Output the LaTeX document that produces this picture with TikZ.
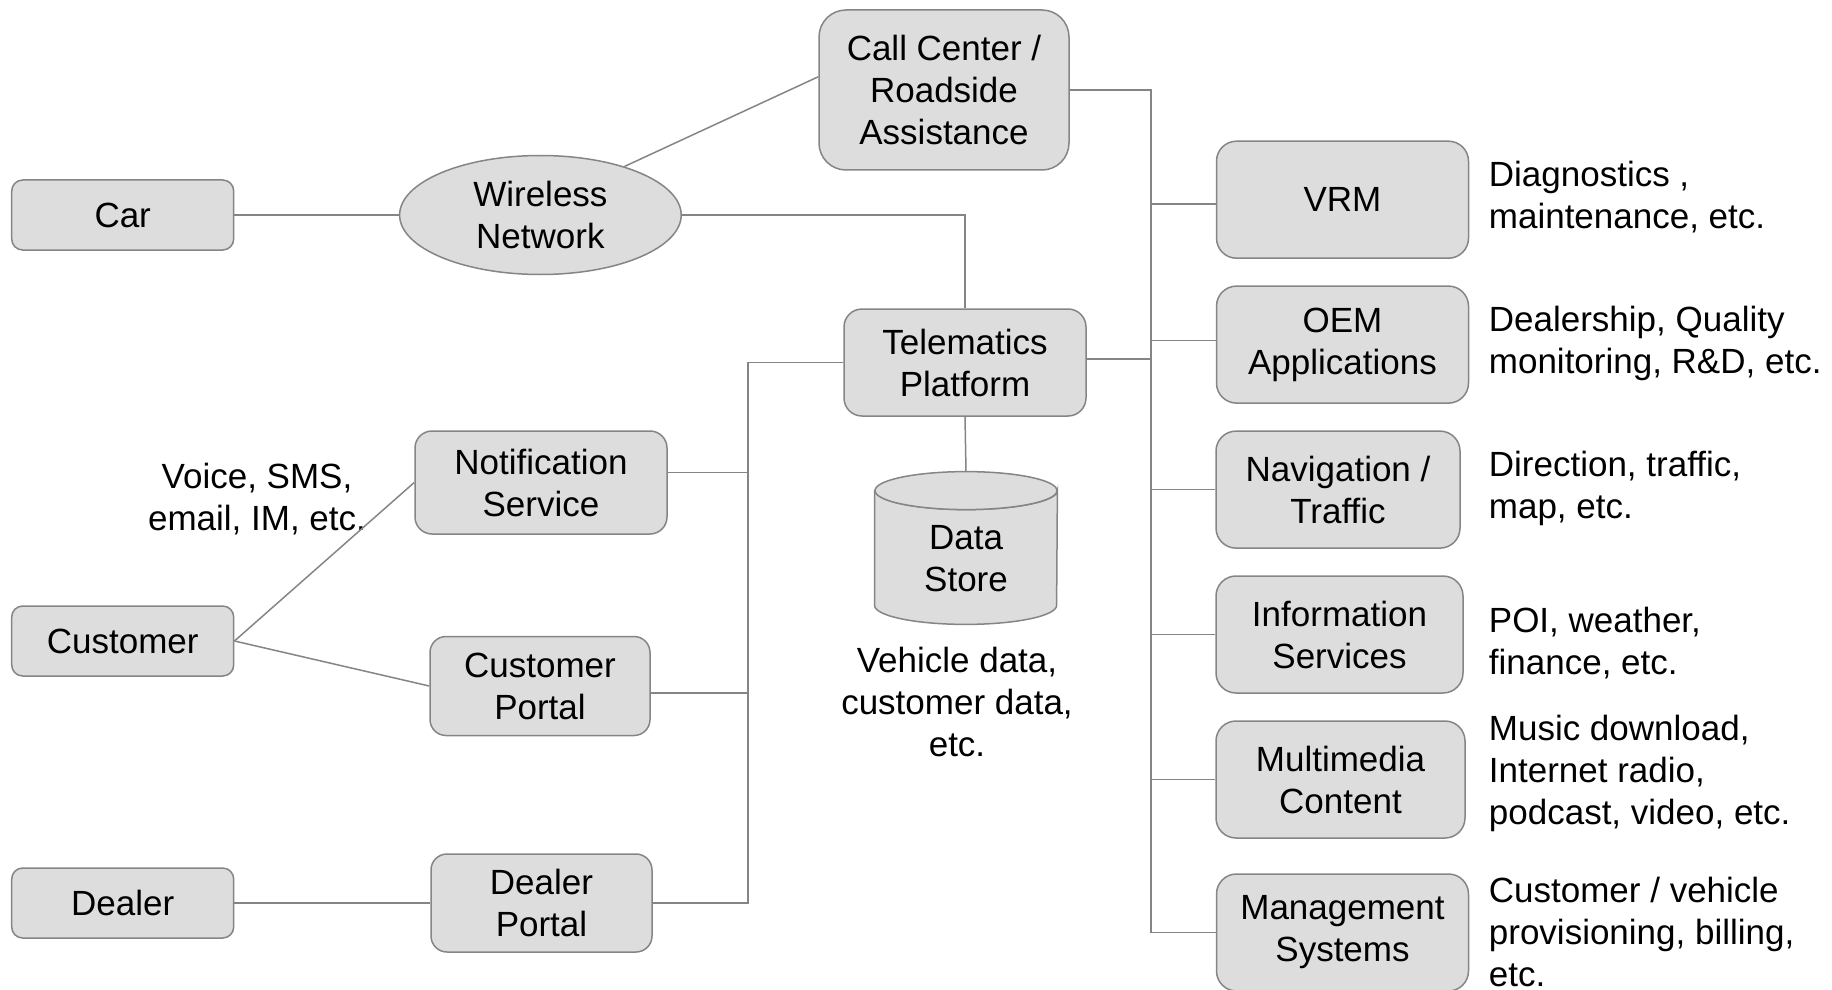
\documentclass[tikz,border=0pt]{standalone}
\usepackage{fontspec}
\setmainfont{Liberation Sans}
\usetikzlibrary{shapes.geometric}
\definecolor{boxfill}{HTML}{DDDDDD}
\definecolor{edge}{HTML}{858585}
\begin{document}
\begin{tikzpicture}[x=0.5pt,y=-0.5pt,
  every node/.style={font=\fontsize{17.5}{21}\selectfont},
  box/.style={draw=edge, fill=boxfill, line width=0.75pt, align=center, inner sep=0pt},
  smallbox/.style={box, rounded corners=5.5pt, minimum width=111pt, minimum height=35pt},
  rightbox/.style={box, rounded corners=10pt, minimum height=58.5pt},
  conn/.style={draw=edge, line width=0.75pt},
  desc/.style={inner sep=0pt, align=left, anchor=west},
  note/.style={inner sep=0pt, align=center}]
\useasboundingbox (0,0) rectangle (1832,990);

% left actors
\node[smallbox] (car) at (122.7,215) {Car};
\node[smallbox] (cust) at (122.7,641) {Customer};
\node[smallbox] (dealer) at (122.7,903) {Dealer};

% wireless network
\node[box, ellipse, minimum width=140.8pt, minimum height=59.5pt] (wn) at (540.4,215) {Wireless\\Network};

% call center
\node[box, rounded corners=13.5pt, minimum width=125pt, minimum height=80pt] (cc) at (944,90) {Call Center /\\Roadside\\Assistance};

% telematics platform
\node[box, rounded corners=9pt, minimum width=121pt, minimum height=53.5pt] (tp) at (965,362.5) {Telematics\\Platform};

% portals
\node[box, rounded corners=8.5pt, minimum width=126pt, minimum height=51.5pt] (ns) at (541,482.5) {Notification\\Service};
\node[box, rounded corners=8pt, minimum width=110pt, minimum height=49.5pt] (cp) at (540,686) {Customer\\Portal};
\node[box, rounded corners=8pt, minimum width=110.5pt, minimum height=49pt] (dp) at (541.5,903) {Dealer\\Portal};

\node[note] (voice) at (257,499) {Voice, SMS,\\email, IM, etc.};

% data store
\node[inner sep=0pt, minimum width=91pt, minimum height=76pt] (ds) at (966,548) {};
\path (ds.north) ++(0,19) coordinate (dstop);
\path (ds.south) ++(0,-19) coordinate (dsbot);
\draw[conn, fill=boxfill] (ds.west |- dstop) -- (ds.west |- dsbot)
  arc[start angle=180, end angle=0, x radius=91, y radius=19]
  -- (ds.east |- dstop)
  arc[start angle=0, end angle=180, x radius=91, y radius=19] -- cycle;
\draw[conn, fill=boxfill] (dstop) ellipse[x radius=91, y radius=19];
\node[note] (dstext) at (966,558.5) {Data\\Store};
\node[note] (dsnote) at (957,702) {Vehicle data,\\customer data,\\etc.};

% right column
\node[rightbox, minimum width=126pt] (vrm) at (1342.5,199.7) {VRM};
\node[rightbox, minimum width=126pt] (oem) at (1342.5,344.6) {OEM\\Applications};
\node[rightbox, minimum width=122pt] (nav) at (1338,489.6) {Navigation /\\Traffic};
\node[rightbox, minimum width=123.5pt] (info) at (1339.5,634.5) {Information\\Services};
\node[rightbox, minimum width=124.5pt] (mm) at (1340.5,779.5) {Multimedia\\Content};
\node[rightbox, minimum width=126pt] (ms) at (1342.5,932.5) {Management\\Systems};

% descriptions
\node[desc] (dvrm) at (1488.5,197.5) {Diagnostics ,\\maintenance, etc.};
\node[desc] (doem) at (1488.5,343.5) {Dealership, Quality\\monitoring, R\&D, etc.};
\node[desc] (dnav) at (1488.5,488.5) {Direction, traffic,\\map, etc.};
\node[desc] (dinfo) at (1488.5,643.5) {POI, weather,\\finance, etc.};
\node[desc] (dmm) at (1488.5,773.5) {Music download,\\Internet radio,\\podcast, video, etc.};
\node[desc] (dms) at (1488.5,932) {Customer / vehicle\\provisioning, billing,\\etc.};

% bus coordinates
\coordinate (bus) at (1151,932.5);
\coordinate (lbus) at (748,362.5);

% connectors
\draw[conn] (car.east) -- (wn.west);
\draw[conn] (wn.30) -- (cc.174);
\draw[conn] (wn.east) -| (tp.north);
\draw[conn] (tp.south) -- (ds.north);
\draw[conn] (cust.east) -- (ns.west);
\draw[conn] (cust.east) -- (cp.west);
\draw[conn] (dealer.east) -- (dp.west);

\draw[conn] (tp.west) -| (lbus |- dp.east) -- (dp.east);
\draw[conn] ([yshift=5pt]ns.east) -- ([yshift=5pt]ns.east -| lbus);
\draw[conn] ([yshift=-3.5pt]cp.east) -- ([yshift=-3.5pt]cp.east -| lbus);

\draw[conn] (cc.east) -| (bus |- ms.west) -- (ms.west);
\draw[conn] ([yshift=1.75pt]tp.east) -- ([yshift=1.75pt]tp.east -| bus);
\draw[conn] ([yshift=-2.25pt]vrm.west) -- ([yshift=-2.25pt]vrm.west -| bus);
\draw[conn] ([yshift=2pt]oem.west) -- ([yshift=2pt]oem.west -| bus);
\draw[conn] (nav.west) -- (nav.west -| bus);
\draw[conn] (info.west) -- (info.west -| bus);
\draw[conn] (mm.west) -- (mm.west -| bus);
\end{tikzpicture}
\end{document}
